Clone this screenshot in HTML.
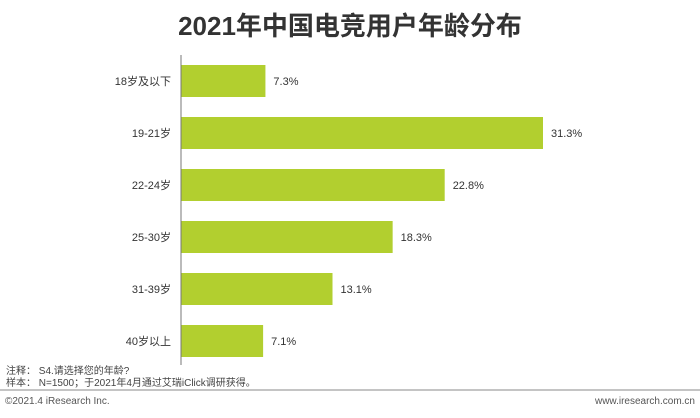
<!DOCTYPE html>
<html><head><meta charset="utf-8"><style>
body{margin:0;width:700px;height:413px;background:#fff;overflow:hidden;font-family:"Liberation Sans","Noto Sans CJK SC",sans-serif;}
</style></head><body>
<svg width="700" height="413" xmlns="http://www.w3.org/2000/svg">
<text x="350" y="35" text-anchor="middle" font-size="26" font-weight="bold" fill="#333" font-family="Liberation Sans,Noto Sans CJK SC,sans-serif">2021年中国电竞用户年龄分布</text>
<g id="bars"></g>
<line x1="181" y1="55" x2="181" y2="365" stroke="#777" stroke-width="1"/>
<text x="6" y="374" font-size="10" fill="#444" font-family="Liberation Sans,Noto Sans CJK SC,sans-serif">注释：  S4.请选择您的年龄?</text>
<text x="6" y="386" font-size="10" fill="#444" font-family="Liberation Sans,Noto Sans CJK SC,sans-serif">样本：  N=1500；于2021年4月通过艾瑞iClick调研获得。</text>
<line x1="0" y1="390" x2="700" y2="390" stroke="#888" stroke-width="1"/>
<text x="5" y="404" font-size="10" fill="#555">©2021.4 iResearch Inc.</text>
<text x="695" y="404" font-size="10" fill="#555" text-anchor="end">www.iresearch.com.cn</text>
</svg>
<script>
const categories=["18岁及以下","19-21岁","22-24岁","25-30岁","31-39岁","40岁以上"];
const values=[7.3,31.3,22.8,18.3,13.1,7.1];
const labels=["7.3%","31.3%","22.8%","18.3%","13.1%","7.1%"];
const x0=181,scale=(543-181)/31.3,top0=65,pitch=52,bh=32;
const xs=v=>x0+v*scale, ys=i=>top0+i*pitch;
const g=document.getElementById('bars');const NS="http://www.w3.org/2000/svg";
categories.forEach((c,i)=>{
 const r=document.createElementNS(NS,'rect');
 r.setAttribute('x',x0);r.setAttribute('y',ys(i));r.setAttribute('width',xs(values[i])-x0);r.setAttribute('height',bh);r.setAttribute('fill','#b2cf2f');
 
 
 g.appendChild(r);
 const t=document.createElementNS(NS,'text');
 t.setAttribute('x',171);t.setAttribute('y',ys(i)+bh/2+4);t.setAttribute('text-anchor','end');t.setAttribute('font-size','11');t.setAttribute('fill','#333');t.textContent=c;
 
 
 g.appendChild(t);
 const v=document.createElementNS(NS,'text');
 v.setAttribute('x',xs(values[i])+8);v.setAttribute('y',ys(i)+bh/2+4);v.setAttribute('font-size','11');v.setAttribute('fill','#333');v.textContent=labels[i];
 
 
 g.appendChild(v);
});
</script>
</body></html>
